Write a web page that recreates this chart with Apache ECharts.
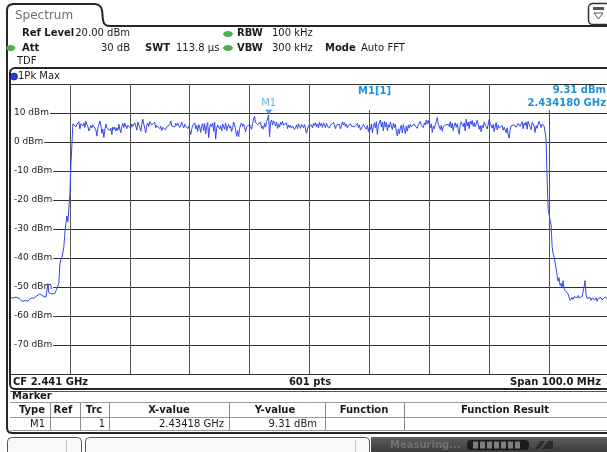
<!DOCTYPE html>
<html><head><meta charset="utf-8">
<script src="https://cdn.jsdelivr.net/npm/echarts@6/dist/echarts.min.js"></script>
<style>html,body{margin:0;padding:0;background:#fff;overflow:hidden}#c{width:607px;height:452px}</style>
</head><body><div id="c"></div>
<script>
// ---- sweep settings ----
const startFreqGHz = 2.391;
const spanMHz = 100;
const pointCount = 601;
const refLevelDbm = 20;
const bottomLevelDbm = -80;
const levelStepDb = 10;
const freqDivisionMHz = 10;

// ---- trace values (dBm), in sweep order ----
const traceLeftFloor = [-53.6,-53.9,-53.4,-53.8,-53.3,-53.7,-53.5,-54.0,-53.6,-53.9,-54.2,-54.5,-54.9,-54.6,-55.1,-54.7,-55.0,-54.4,-54.8,-54.2,-54.5,-53.9,-54.1,-53.6,-53.8,-53.2,-53.5,-53.0,-53.3,-52.8,-52.4,-52.9,-52.3,-53.1,-53.4,-53.0,-53.5,-53.8];
const traceLeftSkirt = [-48.8,-52.0,-52.3,-52.6,-52.4,-52.8,-52.5,-52.2,-51.8,-52.0,-49.5,-48.5,-42.0,-40.5,-39.8,-39.2,-36.0,-31.0,-28.0,-25.5,-27.5,-27.0,-18.0,-8.0,-1.0,6.3];
const tracePlateauA = [
5.8,6.5,5.2,6.0,5.5,
7.0,4.5,6.3,6.8,5.6,
6.6,5.0,7.2,6.1,5.4,
3.8,4.6,5.7,4.9,5.9,
6.3,5.4,4.2,2.0,4.8,
5.9,7.2,5.8,3.0,4.4,
1.6,4.1,6.2,5.0,4.6,
5.5,3.9,4.8,2.6,5.2,
4.3,5.1,3.8,4.9,4.0,
6.1,4.4,3.2,5.3,6.4,
5.0,6.5,7.0,4.6,5.8,
5.2,6.0,4.7,6.2,5.4,
4.8,6.6,5.5,4.1,6.9,
7.4,5.0,3.7,6.0,7.9,
8.2,4.6,3.2,5.8,6.5,
5.3,7.0,7.6,5.9,6.3,
5.6,6.8,4.9,5.7,6.2,
5.1,4.6,5.4,3.9,5.0,
4.8,5.6,4.2,5.3,4.7,
5.9,6.0,7.3,5.5,6.1,
5.8,5.2,6.4,5.7,6.5,
6.2,5.0,5.8,6.9,5.6,
4.8,6.1,5.4,5.9,4.7,
5.5,3.9,2.6,4.4,5.8,
5.2,6.6,4.5,5.7,3.6,
6.0,5.1,3.3,5.5,6.3,
4.0,6.4,2.8,5.2,6.7,
1.5,4.9,6.2,5.4,6.5,
3.7,6.8,1.0,4.6,5.9,
6.4,4.5,5.6,3.8,6.2,
5.7,4.4,6.6,3.9,5.2];
const tracePlateauB = [
6.1,4.8,5.5,3.6,5.0,
6.9,5.8,4.1,2.0,3.9,
1.8,4.7,5.9,6.6,5.4,
6.2,4.9,3.5,5.3,5.8,
5.1,6.0,5.3,4.4,6.3,
7.9,8.8,6.7,7.3,6.0,
6.6,5.6,6.8,4.7,5.4,
4.4,6.4,5.2,7.1,8.0];
const traceMarkerPeak = [9.31,1.8];
const tracePlateauC = [
6.8,7.6,5.9,7.2,6.5,
5.6,6.9,4.7,6.2,5.1,
6.8,6.0,7.1,5.8,6.4,
5.3,6.6,4.6,5.9,5.0,
5.7,4.8,5.5,5.2,4.3,
5.0,5.9,4.6,6.3,5.4,
4.7,6.1,5.5,4.9,6.0,
4.5,3.0,2.4,5.6,6.1,
5.2,5.9,4.8,6.4,5.7,
6.7,5.3,6.2,4.9,6.9,
5.6,6.3,5.0,6.6,5.8,
4.9,6.5,5.5,6.0,4.8,
5.7,6.2,5.1,6.8,5.9,
4.6,5.8,6.4,5.3,6.1,
4.5,5.6,7.0,5.9,6.7,
5.4,6.2,4.8,5.6,5.1,
6.3,5.5,4.9,6.0,5.2,
4.7,5.8,6.4,5.0,5.9,
4.1,3.5,5.3,6.1,5.4,
6.0,4.4,5.7,3.6,5.1,
4.3,6.2,3.2,5.5,6.6,
4.9,7.0,2.6,5.8,6.3,
7.6,5.2,6.8,3.8,7.1];
const tracePlateauD = [
5.2,6.8,3.9,6.0,5.1,
6.9,5.6,4.3,6.5,5.0,
6.2,3.6,2.1,4.5,2.8,
4.9,5.8,3.1,6.0,4.4,
2.9,5.5,3.7,5.9,4.8,
6.1,5.3,5.8,4.9,6.2,
5.5,6.0,4.7,5.9,6.4,
7.1,5.7,6.3,5.0,6.6,
5.9,7.6,6.2,7.4,6.8,
4.9,6.3,3.3,5.4,4.6,
6.0,7.0,8.4,6.2,5.6,
4.3,5.7,3.7,5.2,4.6,
5.9,6.4,5.6,6.1,5.3,
7.0,4.8,6.5,3.9,5.8,
6.6,5.1,6.3,4.2,2.7,
5.8,7.0,6.1,5.3,6.6,
3.8,7.9,5.5,6.9,4.6,
7.2,6.1,7.4,5.4,6.7,
5.2,6.3,7.5,6.0,4.4,
5.6,3.5,5.8,4.9,6.8,
7.0,5.3,4.5,6.0,7.8,
6.4,5.9,4.8,6.1,3.6,
5.5,6.7,4.2,5.8,4.8,
5.3,4.6,5.7,4.1,5.1,
4.5,3.2,4.9,2.5,1.4,
4.2,5.6,6.2,5.0,5.9,
6.3,5.1,5.7,6.4,6.9,
5.4,6.0,7.0,4.6,6.5,
5.8,6.9,4.4,7.2,7.4,
5.1,4.3,6.8,7.0,5.5,
3.3,5.6,4.7,6.3,7.1];
const tracePlateauE = [7.2,5.0,6.2,6.7,5.5,3.5,0.5];
const traceRightSkirt = [-12.0,-23.0,-25.0,-27.0,-28.5,-36.0,-38.5,-39.8,-41.5,-43.5,-46.0,-48.0,-46.8,-49.5,-48.8,-50.2,-47.8,-50.5,-51.2,-50.8,-51.6,-52.4,-53.5,-54.6,-54.2,-53.6,-54.3,-53.4,-53.9,-53.1,-53.7,-52.9,-53.8,-53.2,-54.0,-53.3,-52.8,-50.0,-47.8,-52.6,-53.9];
const traceRightFloor = [-53.4,-54.2,-53.6,-54.6,-53.8,-54.1,-53.2,-54.4,-53.7,-54.9,-54.0,-53.5,-54.3,-53.6,-54.5,-53.9,-54.2,-53.4,-54.0,-53.7,-54.3,-53.8];

// ---- marker ----
const markerName = 'M1';
const markerFreqGHz = 2.43418;
const markerLevelDbm = 9.31;

const traceDbm = [].concat(traceLeftFloor, traceLeftSkirt, tracePlateauA, tracePlateauB,
  traceMarkerPeak, tracePlateauC, tracePlateauD, tracePlateauE, traceRightSkirt, traceRightFloor);
const stepMHz = spanMHz / (pointCount - 1);
const traceData = traceDbm.map((v, i) => [i * stepMHz, v]);
const markerOffsetMHz = (markerFreqGHz - startFreqGHz) * 1000;

const FONT = 'DejaVu Sans';
function txt(text, x, y, o) {
  o = o || {};
  const st = { text: text, x: x, y: y, fill: o.fill || '#1a1a1a', fontSize: o.size || 10,
    fontWeight: o.bold ? 'bold' : 'normal', fontFamily: FONT, align: o.align || 'left', verticalAlign: 'middle' };
  return { type: 'text', z: o.z || 120, silent: true, style: st };
}
function ln(x1, y1, x2, y2, stroke, w, z) {
  return { type: 'line', z: z || 110, silent: true, shape: { x1: x1, y1: y1, x2: x2, y2: y2 }, style: { stroke: stroke, lineWidth: w || 1 } };
}
function rc(x, y, w, h, fill, stroke, lw, r, z) {
  return { type: 'rect', z: z || 105, silent: true, shape: { x: x, y: y, width: w, height: h, r: r || 0 },
    style: { fill: fill || 'none', stroke: stroke || 'none', lineWidth: lw || 1 } };
}

const graphics = [];
// outer panel + tab
graphics.push({ type: 'polyline', z: 115, silent: true,
  shape: { points: [[620,433],[12,433],[9,432.3],[7.6,430.5],[7,428],[7,10],[7.6,7],[9.5,5],[13,4],[95,4],[98.5,4.8],[100.8,7],[102,10],[103,20],[104,23.5],[106.5,25.5],[110,26],[620,26]] },
  style: { fill: 'none', stroke: '#262626', lineWidth: 2 } });
graphics.push(txt('Spectrum', 15, 15.5, { size: 12, fill: '#707070' }));
// icon top right
graphics.push(rc(588.5, 3.5, 24, 21, '#fff', '#303030', 1.5, 4, 116));
graphics.push(rc(593, 7, 11, 3, '#555', null, 1, 0, 117));
graphics.push({ type: 'polygon', z: 117, silent: true, shape: { points: [[594, 13], [603, 13], [598.5, 19]] }, style: { fill: 'none', stroke: '#555', lineWidth: 1 } });

// header
graphics.push(txt('Ref Level', 22, 33.5, { bold: true }));
graphics.push(txt('20.00 dBm', 130, 33.5, { align: 'right' }));
graphics.push(txt('Att', 22, 48, { bold: true }));
graphics.push(txt('30 dB', 130, 48, { align: 'right' }));
graphics.push(txt('SWT', 145, 48, { bold: true }));
graphics.push(txt('113.8 \u00b5s', 176, 48));
graphics.push(txt('RBW', 237, 33.5, { bold: true }));
graphics.push(txt('100 kHz', 272, 33.5));
graphics.push(txt('VBW', 237, 48, { bold: true }));
graphics.push(txt('300 kHz', 272, 48));
graphics.push(txt('Mode', 325, 48, { bold: true }));
graphics.push(txt('Auto FFT', 361, 48));
graphics.push(txt('TDF', 17, 61));
[[10.5, 48], [228, 34], [228, 48]].forEach(function (p) {
  graphics.push({ type: 'ellipse', z: 118, silent: true, shape: { cx: p[0], cy: p[1], rx: 4.5, ry: 2.6 }, style: { fill: '#4db34d', stroke: '#2e8a2e', lineWidth: 0.6 } });
});

// trace window frame
graphics.push(rc(10, 68, 620, 321, 'none', '#262626', 2, 5, 115));
graphics.push(ln(10, 391.5, 620, 391.5, '#555', 1, 115));
graphics.push({ type: 'circle', z: 118, silent: true, shape: { cx: 14, cy: 76.5, r: 3.5 }, style: { fill: '#2340e8', stroke: '#102080', lineWidth: 0.8 } });
graphics.push(txt('1Pk Max', 18, 76.5));

// marker readout boxes
graphics.push(rc(355, 85, 40, 25, '#fff', null, 1, 0, 106));
graphics.push(rc(527, 85, 85, 25, '#fff', null, 1, 0, 106));
graphics.push(txt('M1[1]', 358, 91, { bold: true, fill: '#1e90d8' }));
graphics.push(txt(markerLevelDbm.toFixed(2) + ' dBm', 606, 90.5, { bold: true, fill: '#1e90d8', align: 'right' }));
graphics.push(txt(markerFreqGHz.toFixed(6) + ' GHz', 606, 103.5, { bold: true, fill: '#1e90d8', align: 'right' }));

// footer of trace window
graphics.push(txt('CF 2.441 GHz', 13, 382, { bold: true }));
graphics.push(txt(pointCount + ' pts', 310, 382, { bold: true, align: 'center' }));
graphics.push(txt('Span 100.0 MHz', 601, 382, { bold: true, align: 'right' }));

// marker table
graphics.push(txt('Marker', 12, 396, { bold: true }));
graphics.push(ln(10, 402.5, 607, 402.5, '#9a9a9a'));
graphics.push(ln(10, 417.5, 607, 417.5, '#9a9a9a'));
graphics.push(ln(10, 430.5, 607, 430.5, '#9a9a9a'));
[50.5, 80.5, 109.5, 229.5, 325.5, 404.5].forEach(function (x) { graphics.push(ln(x, 403, x, 430, '#8a8a8a')); });
graphics.push(txt('Type', 32, 410, { bold: true, align: 'center' }));
graphics.push(txt('Ref', 63, 410, { bold: true, align: 'center' }));
graphics.push(txt('Trc', 94, 410, { bold: true, align: 'center' }));
graphics.push(txt('X-value', 169, 410, { bold: true, align: 'center' }));
graphics.push(txt('Y-value', 275, 410, { bold: true, align: 'center' }));
graphics.push(txt('Function', 364, 410, { bold: true, align: 'center' }));
graphics.push(txt('Function Result', 505, 410, { bold: true, align: 'center' }));
graphics.push(txt(markerName, 45, 424, { align: 'right' }));
graphics.push(txt('1', 105, 424, { align: 'right' }));
graphics.push(txt(markerFreqGHz + ' GHz', 224, 424, { align: 'right' }));
graphics.push(txt(markerLevelDbm.toFixed(2) + ' dBm', 317, 424, { align: 'right' }));

// status bar
graphics.push(rc(7.5, 437.5, 74, 22, '#f8f8f8', '#555', 1, 4, 105));
graphics.push(ln(66.5, 440, 66.5, 452, '#c4c4c4'));
graphics.push(rc(85.5, 437.5, 284, 22, '#f8f8f8', '#555', 1, 4, 105));
graphics.push(ln(355.5, 440, 355.5, 452, '#c4c4c4'));
graphics.push({ type: 'rect', z: 105, silent: true, shape: { x: 371, y: 437, width: 236, height: 15 },
  style: { fill: { type: 'linear', x: 0, y: 0, x2: 0, y2: 1, colorStops: [{ offset: 0, color: '#5e5e5e' }, { offset: 1, color: '#3c3c3c' }] } } });
graphics.push(txt('Measuring...', 390, 445, { bold: true, fill: '#727272' }));
graphics.push(rc(467, 440, 62, 10, '#1c1c1c', null, 1, 4, 106));
for (var k = 0; k < 7; k++) graphics.push(rc(473 + k * 7, 441.5, 5, 7, '#7d7d7d', null, 1, 0, 107));
graphics.push({ type: 'polygon', z: 107, silent: true, shape: { points: [[535, 449], [541, 441], [545, 441], [539, 449]] }, style: { fill: '#2a2a2a' } });
graphics.push({ type: 'polygon', z: 107, silent: true, shape: { points: [[542, 449], [548, 441], [553, 441], [553, 449]] }, style: { fill: '#2a2a2a' } });

const chart = echarts.init(document.getElementById('c'), null, { renderer: 'canvas' });
chart.setOption({
  animation: false,
  backgroundColor: '#ffffff',
  grid: { left: 10, top: 84, width: 599, height: 290, containLabel: false, outerBoundsMode: 'none', show: false },
  xAxis: {
    type: 'value', min: 0, max: spanMHz, interval: freqDivisionMHz,
    axisLine: { show: false }, axisTick: { show: false }, axisLabel: { show: false },
    splitLine: { show: true, lineStyle: { color: '#555555', width: 1 } }
  },
  yAxis: {
    type: 'value', min: bottomLevelDbm, max: refLevelDbm, interval: levelStepDb,
    axisLine: { show: false }, axisTick: { show: false },
    splitLine: { show: true, lineStyle: { color: '#303030', width: 1 } },
    axisLabel: {
      inside: true, margin: 1, showMinLabel: false, showMaxLabel: false,
      formatter: function (v) { return v + ' dBm'; },
      color: '#1a1a1a', fontSize: 9, fontFamily: FONT, align: 'left',
      backgroundColor: '#ffffff', padding: [1, 1, 1, 3]
    }
  },
  series: [
    { type: 'line', data: traceData, showSymbol: false, symbol: 'none', z: 3,
      lineStyle: { color: '#3344f2', width: 1 }, emphasis: { disabled: true } },
    { type: 'scatter', data: [[markerOffsetMHz, markerLevelDbm]], z: 5,
      symbol: 'path://M0,0L8,0L4,5Z', symbolSize: [7, 5], symbolOffset: [0, -3],
      itemStyle: { color: '#1e8fd8' },
      label: { show: true, formatter: markerName, position: 'top', distance: 1, color: '#3da0e0', fontSize: 10, fontFamily: FONT } }
  ],
  graphic: graphics
});
</script>
</body></html>
